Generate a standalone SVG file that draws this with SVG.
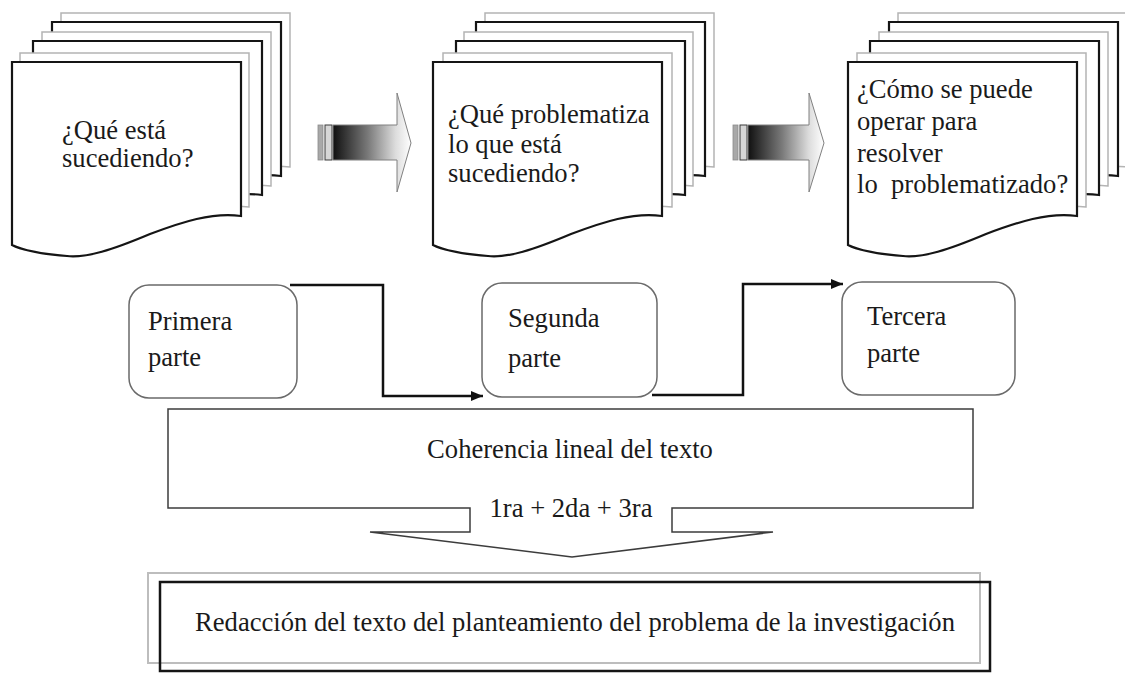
<svg xmlns="http://www.w3.org/2000/svg" width="1125" height="675" viewBox="0 0 1125 675">
  <defs>
    <style>
      .t { font-family: "Liberation Serif", "Times New Roman", serif; font-size: 26.6px; fill: #1a1a1a; white-space: pre; }
      .pg { fill: #ffffff; stroke: #b4b4b4; stroke-width: 1.5; }
      .pb { fill: #ffffff; stroke: #151515; stroke-width: 2.2; }
      .rbox { fill: #ffffff; stroke: #6a6a6a; stroke-width: 1.5; }
      .conn { fill: none; stroke: #111111; stroke-width: 2.5; }
      .barA { fill: #a8a8a8; stroke: #8a8a8a; stroke-width: 0.8; }
      .barB { fill: #d6d6d6; stroke: #3a3a3a; stroke-width: 1; }
      .blk { fill: url(#grad); stroke: #808080; stroke-width: 1; }
    </style>
    <path id="doc" d="M0,0 H229 V154 C200,150 170,160 138,172 C100,188 75,196 55,194 C30,192 10,188 0,183 Z"/>
    <linearGradient id="grad" x1="0" y1="0" x2="1" y2="0">
      <stop offset="0" stop-color="#101010"/>
      <stop offset="0.45" stop-color="#7a7a7a"/>
      <stop offset="0.8" stop-color="#dcdcdc"/>
      <stop offset="1" stop-color="#ffffff"/>
    </linearGradient>
    <marker id="ah" viewBox="0 0 12 10" refX="12" refY="5" markerWidth="12" markerHeight="10" markerUnits="userSpaceOnUse" orient="auto">
      <path d="M0,0 L12,5 L0,10 Z" fill="#111111"/>
    </marker>
  </defs>

  <rect x="0" y="0" width="1125" height="675" fill="#ffffff"/>

  <!-- Stack 1 -->
  <g id="stack1">
    <use href="#doc" class="pg" x="61" y="13"/>
    <use href="#doc" class="pb" x="52" y="22"/>
    <use href="#doc" class="pg" x="42" y="32"/>
    <use href="#doc" class="pb" x="33" y="41"/>
    <use href="#doc" class="pg" x="20" y="53"/>
    <use href="#doc" class="pb" x="12" y="62"/>
    <text class="t" x="62" y="139">¿Qué está</text>
    <text class="t" x="62" y="167">sucediendo?</text>
  </g>

  <!-- Stack 2 -->
  <g id="stack2">
    <use href="#doc" class="pg" x="485" y="13"/>
    <use href="#doc" class="pb" x="476" y="22"/>
    <use href="#doc" class="pg" x="464" y="32"/>
    <use href="#doc" class="pb" x="456" y="41"/>
    <use href="#doc" class="pg" x="443" y="53"/>
    <use href="#doc" class="pb" x="433" y="62"/>
    <text class="t" x="448" y="123">¿Qué problematiza</text>
    <text class="t" x="448" y="153">lo que está</text>
    <text class="t" x="448" y="182">sucediendo?</text>
  </g>

  <!-- Stack 3 -->
  <g id="stack3">
    <use href="#doc" class="pg" x="898" y="13"/>
    <use href="#doc" class="pb" x="889" y="22"/>
    <use href="#doc" class="pg" x="879" y="32"/>
    <use href="#doc" class="pb" x="870" y="41"/>
    <use href="#doc" class="pg" x="857" y="53"/>
    <use href="#doc" class="pb" x="848" y="62"/>
    <text class="t" x="857" y="98">¿Cómo se puede</text>
    <text class="t" x="857" y="130">operar para</text>
    <text class="t" x="857" y="162">resolver</text>
    <text class="t" x="857" y="193">lo  problematizado?</text>
  </g>

  <!-- Part boxes -->
  <g id="primera">
    <rect class="rbox" x="129" y="285" width="168" height="113" rx="20" ry="20"/>
    <text class="t" x="148" y="330">Primera</text>
    <text class="t" x="148" y="366">parte</text>
  </g>
  <g id="segunda">
    <rect class="rbox" x="482" y="283" width="175" height="114" rx="20" ry="20"/>
    <text class="t" x="508" y="327">Segunda</text>
    <text class="t" x="508" y="367">parte</text>
  </g>
  <g id="tercera">
    <rect class="rbox" x="842" y="282" width="173" height="113" rx="20" ry="20"/>
    <text class="t" x="867" y="325">Tercera</text>
    <text class="t" x="867" y="362">parte</text>
  </g>

  <!-- Coherencia block with down arrow -->
  <g id="coherencia">
    <path d="M168,409 H973 V508 H672 V532 H773 L572,557 L370,532 H470 V508 H168 Z" fill="#ffffff" stroke="#3c3c3c" stroke-width="1.5" stroke-linejoin="miter"/>
    <text class="t" x="570" y="458" text-anchor="middle">Coherencia lineal del texto</text>
    <text class="t" x="571" y="517" text-anchor="middle">1ra + 2da + 3ra</text>
  </g>

  <!-- Final box -->
  <g id="redaccion">
    <rect x="148" y="573" width="832" height="90" fill="none" stroke="#bdbdbd" stroke-width="2"/>
    <rect x="160" y="582" width="830" height="89" fill="none" stroke="#151515" stroke-width="2.5"/>
    <text class="t" x="575" y="631" text-anchor="middle">Redacción del texto del planteamiento del problema de la investigación</text>
  </g>

  <!-- Connectors -->
  <g id="connectors">
    <g id="blockarrow1">
      <rect class="barA" x="318" y="125" width="5" height="35"/>
      <rect class="barB" x="325" y="125" width="7" height="35"/>
      <path class="blk" d="M333,125 H397 V93 L411,143 L397,192 V160 H333 Z"/>
    </g>
    <g id="blockarrow2">
      <rect class="barA" x="733" y="125" width="5" height="35"/>
      <rect class="barB" x="740" y="125" width="7" height="35"/>
      <path class="blk" d="M748,125 H809 V93 L824,143 L809,192 V160 H748 Z"/>
    </g>
    <path class="conn" d="M290,285 H383 V396 H483" marker-end="url(#ah)"/>
    <path class="conn" d="M652,395 H743 V284 H843" marker-end="url(#ah)"/>
  </g>
</svg>
